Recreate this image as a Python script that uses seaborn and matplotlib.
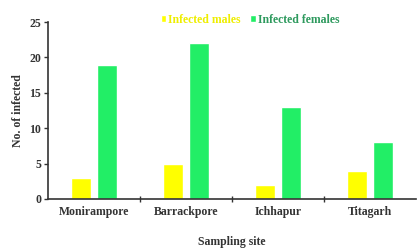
import matplotlib
matplotlib.use("Agg")
import matplotlib.pyplot as plt
import pandas as pd
import seaborn as sns

sns.set_theme(style="white")
plt.rcParams["font.family"] = ["Liberation Serif", "DejaVu Serif"]
plt.rcParams["font.weight"] = "bold"

# ── Datos ──────────────────────────────────────────────
sites   = ["Monirampore", "Barrackpore", "Ichhapur", "Titagarh"]
males   = [3, 5, 2, 4]
females = [19, 22, 13, 8]
series  = ["Infected males", "Infected females"]
COLORS  = ["#FFFF00", "#22EE66"]
TEXT_COLORS = ["#EEEE00", "#2E9A5E"]

df = pd.DataFrame({
    "site": sites * 2,
    "value": males + females,
    "series": [series[0]] * len(sites) + [series[1]] * len(sites),
})

fig = plt.figure(figsize=(4.17, 2.48), dpi=100)
ax = fig.add_axes([0.115, 0.198, 0.883, 0.713])

sns.barplot(data=df, x="site", y="value", hue="series", order=sites,
            hue_order=series, palette=COLORS, width=0.56, gap=0.22,
            saturation=1, ax=ax, legend=True)

ax.set_ylim(0, 25)
ax.set_xlim(-0.5, 3.5)
ax.set_yticks(range(0, 26, 5))
ax.tick_params(axis="y", direction="out", length=3, width=1, left=True,
               labelsize=8.5, colors="#333333", pad=2)
ax.tick_params(axis="x", length=0, labelsize=8.5, colors="#333333", pad=5)
ax.set_xticks([0.5, 1.5, 2.5], minor=True)
ax.tick_params(axis="x", which="minor", direction="inout", length=4,
               width=1, bottom=True, color="#333333")
ax.set_xlabel("Sampling site", fontsize=8.5, fontweight="bold",
              color="#333333", labelpad=13)
ax.set_ylabel("No. of infected", fontsize=8.5, fontweight="bold",
              color="#333333", labelpad=4)

for side in ["top", "right"]:
    ax.spines[side].set_visible(False)
for side in ["left", "bottom"]:
    ax.spines[side].set_color("#333333")
    ax.spines[side].set_linewidth(1.2)

leg = ax.legend(loc="center", bbox_to_anchor=(0.6, 0.92),
                bbox_transform=fig.transFigure, ncol=2, frameon=False,
                fontsize=8.5, handlelength=0.45, handleheight=0.45,
                handletextpad=0.2, columnspacing=0.8,
                labelcolor=TEXT_COLORS)

fig.savefig("out.png", dpi=100)
